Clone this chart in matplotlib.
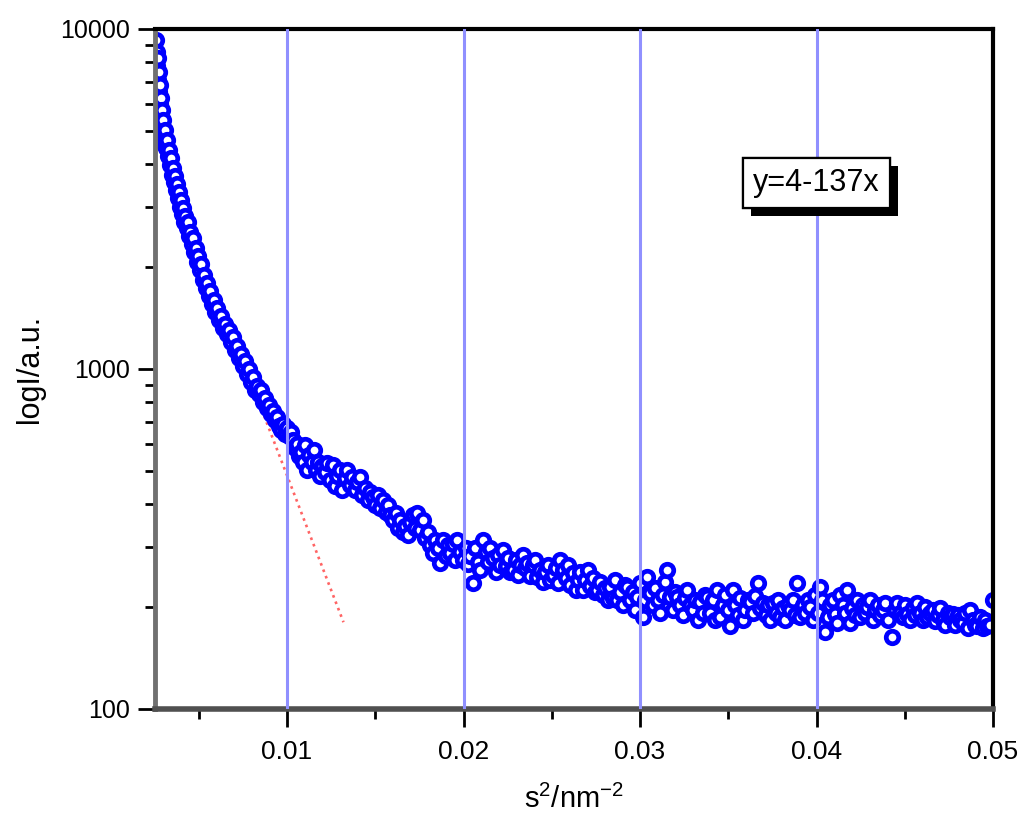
import matplotlib
matplotlib.use("Agg")
import matplotlib.pyplot as plt
import matplotlib.patheffects as pe
from matplotlib.ticker import FixedLocator, LogLocator, NullFormatter, FuncFormatter

plt.rcParams['font.family'] = ['Liberation Sans', 'DejaVu Sans']
plt.rcParams['mathtext.fontset'] = 'custom'
plt.rcParams['mathtext.rm'] = 'Liberation Sans'
plt.rcParams['mathtext.it'] = 'Liberation Sans:italic'

# steep part, s^2 < 0.0107
s2_steep = [0.00258, 0.00263, 0.00263, 0.00269, 0.00269, 0.00275, 0.00275, 0.00280, 0.00280, 0.00286,
            0.00286, 0.00292, 0.00292, 0.00297, 0.00303, 0.00303, 0.00309, 0.00314, 0.00320, 0.00326,
            0.00331, 0.00337, 0.00343, 0.00348, 0.00354, 0.00360, 0.00365, 0.00371, 0.00377, 0.00382,
            0.00388, 0.00394, 0.00399, 0.00405, 0.00411, 0.00416, 0.00422, 0.00433, 0.00439, 0.00445,
            0.00450, 0.00462, 0.00467, 0.00473, 0.00484, 0.00490, 0.00496, 0.00507, 0.00513, 0.00524,
            0.00530, 0.00541, 0.00547, 0.00558, 0.00564, 0.00575, 0.00586, 0.00592, 0.00603, 0.00615,
            0.00626, 0.00637, 0.00649, 0.00660, 0.00671, 0.00683, 0.00694, 0.00705, 0.00717, 0.00728,
            0.00739, 0.00751, 0.00762, 0.00773, 0.00785, 0.00796, 0.00807, 0.00819, 0.00830, 0.00841,
            0.00853, 0.00864, 0.00875, 0.00887, 0.00898, 0.00909, 0.00921, 0.00932, 0.00943, 0.00955,
            0.00966, 0.00977, 0.00989, 0.01000, 0.01011, 0.01023, 0.01034, 0.01045, 0.01057, 0.01068]
I_steep = [9290, 8550, 7790, 8210, 7080, 7470, 6530, 6840, 6010, 6270,
           5480, 5780, 5120, 5400, 4880, 4590, 5050, 4470, 4720, 4230,
           4410, 3980, 4180, 3720, 3900, 3550, 3700, 3360, 3500, 3180,
           3310, 2995, 3140, 2860, 2970, 2700, 2820, 2600, 2700, 2460,
           2530, 2335, 2430, 2210, 2270, 2060, 2150, 1955, 2035, 1827,
           1890, 1730, 1790, 1640, 1696, 1553, 1596, 1472, 1512, 1394,
           1433, 1320, 1357, 1268, 1303, 1200, 1243, 1138, 1168, 1078,
           1108, 1021, 1056, 967, 1000, 917, 948, 868, 892, 845,
           868, 800, 822, 768, 784, 738, 753, 708, 723, 680,
           662, 689, 644, 671, 636, 653, 618, 585, 601, 555]

# middle part
s2_mid = [0.01079, 0.01091, 0.01102, 0.01113, 0.01125, 0.01142, 0.01153, 0.01164, 0.01176, 0.01187,
          0.01198, 0.01215, 0.01227, 0.01244, 0.01261, 0.01272, 0.01283, 0.01300, 0.01312, 0.01329,
          0.01340, 0.01357, 0.01368, 0.01385, 0.01397, 0.01414, 0.01425, 0.01442, 0.01459, 0.01470,
          0.01487, 0.01499, 0.01516, 0.01527, 0.01544, 0.01561, 0.01572, 0.01584, 0.01601, 0.01618,
          0.01629, 0.01640, 0.01657, 0.01669, 0.01686, 0.01697, 0.01714, 0.01725, 0.01737, 0.01754,
          0.01771, 0.01782, 0.01799, 0.01810, 0.01827, 0.01839, 0.01856, 0.01867, 0.01884, 0.01901,
          0.01912, 0.01924, 0.01941, 0.01952, 0.01963, 0.01980, 0.01997, 0.02014, 0.02026, 0.02037,
          0.02054, 0.02065, 0.02082, 0.02093, 0.02110, 0.02127, 0.02139, 0.02150, 0.02167, 0.02184,
          0.02195, 0.02207]
I_mid = [570, 533, 597, 505, 559, 533, 578, 505, 533, 485,
         518, 498, 529, 472, 522, 453, 485, 505, 441, 478,
         505, 456, 482, 441, 466, 482, 426, 447, 412, 435,
         421, 398, 426, 390, 412, 380, 398, 372, 360, 377,
         341, 360, 331, 346, 325, 355, 372, 341, 377, 336,
         360, 318, 331, 304, 288, 314, 297, 268, 314, 282,
         304, 288, 306, 274, 314, 290, 274, 297, 267, 282,
         235, 297, 270, 256, 314, 290, 270, 297, 278, 253,
         284, 265]

# flat tail
s2_tail = [0.02224, 0.02241, 0.02252, 0.02263, 0.02280, 0.02297, 0.02309, 0.02320, 0.02337, 0.02348,
           0.02360, 0.02377, 0.02394, 0.02405, 0.02416, 0.02433, 0.02450, 0.02462, 0.02479, 0.02490,
           0.02507, 0.02524, 0.02535, 0.02547, 0.02564, 0.02581, 0.02592, 0.02603, 0.02620, 0.02637,
           0.02649, 0.02660, 0.02677, 0.02688, 0.02705, 0.02717, 0.02734, 0.02745, 0.02756, 0.02773,
           0.02790, 0.02802, 0.02819, 0.02830, 0.02847, 0.02858, 0.02870, 0.02887, 0.02904, 0.02915,
           0.02926, 0.02943, 0.02960, 0.02972, 0.02983, 0.03000, 0.03017, 0.03028, 0.03040, 0.03057,
           0.03074, 0.03085, 0.03102, 0.03113, 0.03130, 0.03142, 0.03153, 0.03170, 0.03187, 0.03198,
           0.03210, 0.03227, 0.03244, 0.03255, 0.03266, 0.03283, 0.03300, 0.03312, 0.03329, 0.03340,
           0.03357, 0.03368, 0.03380, 0.03397, 0.03414, 0.03425, 0.03436, 0.03453, 0.03470, 0.03482,
           0.03499, 0.03510, 0.03527, 0.03538, 0.03555, 0.03567, 0.03584, 0.03595, 0.03612, 0.03623,
           0.03640, 0.03652, 0.03669, 0.03680, 0.03697, 0.03714, 0.03725, 0.03737, 0.03754, 0.03771,
           0.03782, 0.03793, 0.03810, 0.03822, 0.03839, 0.03850, 0.03867, 0.03878, 0.03890, 0.03907,
           0.03924, 0.03935, 0.03952, 0.03963, 0.03980, 0.03992, 0.04009, 0.04020, 0.04031, 0.04048,
           0.04065, 0.04077, 0.04094, 0.04105, 0.04116, 0.04133, 0.04150, 0.04162, 0.04173, 0.04190,
           0.04201, 0.04218, 0.04230, 0.04247, 0.04264, 0.04275, 0.04286, 0.04303, 0.04320, 0.04332,
           0.04349, 0.04360, 0.04377, 0.04388, 0.04405, 0.04428, 0.04445, 0.04456, 0.04473, 0.04490,
           0.04501, 0.04513, 0.04530, 0.04547, 0.04558, 0.04569, 0.04586, 0.04603, 0.04615, 0.04626,
           0.04643, 0.04660, 0.04671, 0.04688, 0.04700, 0.04717, 0.04728, 0.04745, 0.04756, 0.04773,
           0.04784, 0.04801, 0.04813, 0.04830, 0.04841, 0.04858, 0.04870, 0.04887, 0.04898, 0.04909,
           0.04926, 0.04943, 0.04955, 0.04966, 0.04983, 0.05000]
I_tail = [294, 263, 278, 253, 256, 274, 247, 265, 284, 260,
          268, 246, 265, 274, 244, 256, 237, 253, 265, 240,
          247, 260, 234, 274, 256, 243, 265, 232, 251, 224,
          240, 253, 224, 240, 256, 230, 243, 221, 224, 237,
          217, 227, 209, 228, 212, 240, 209, 221, 202, 232,
          228, 209, 221, 196, 214, 235, 187, 209, 244, 219,
          202, 227, 209, 192, 217, 237, 256, 214, 196, 221,
          214, 202, 189, 212, 224, 202, 196, 209, 183, 206,
          192, 217, 214, 192, 209, 183, 224, 187, 202, 217,
          196, 175, 224, 202, 189, 212, 183, 196, 209, 206,
          192, 215, 235, 198, 205, 189, 202, 183, 205, 192,
          209, 187, 198, 183, 202, 196, 209, 189, 235, 187,
          202, 192, 209, 199, 183, 217, 192, 228, 209, 168,
          186, 202, 209, 190, 179, 217, 202, 192, 224, 179,
          198, 189, 209, 186, 202, 192, 199, 209, 183, 196,
          202, 189, 196, 205, 183, 163, 196, 205, 192, 186,
          202, 190, 183, 198, 189, 205, 192, 183, 199, 187,
          192, 196, 181, 189, 198, 183, 177, 192, 186, 190,
          177, 189, 183, 179, 192, 173, 196, 183, 177, 175,
          186, 173, 183, 175, 177, 209]

# linear fit of the Guinier region (log10 I = 4 - 137 s^2)
fit_s2 = [0.0027, 0.0132]
fit_I = [4700, 180]
fit_label = 'y=4-137x'

grid_x = [0.01, 0.02, 0.03, 0.04]
x_ticks = [0.01, 0.02, 0.03, 0.04, 0.05]
x_minor = [0.005, 0.015, 0.025, 0.035, 0.045]

s2 = s2_steep + s2_mid + s2_tail
I = I_steep + I_mid + I_tail

fig = plt.figure(figsize=(10.24, 8.31), dpi=100)
fig.patch.set_facecolor('white')
ax = fig.add_axes([155 / 1024, 1 - 709 / 831, 838 / 1024, 680 / 831])

for gx in grid_x:
    ax.axvline(gx, color='#9090ff', lw=2.2, zorder=3)

ax.plot(fit_s2, fit_I, color='#ff6464', ls=(0, (1, 1.6)), lw=1.9, zorder=1.5)
ax.plot(s2, I, 'o', ms=9, mfc='white', mec='#0000ff', mew=3.4, ls='none', zorder=2)

ax.set_yscale('log')
ax.set_xlim(0.00252, 0.05)
ax.set_ylim(100, 10000)

ax.xaxis.set_major_locator(FixedLocator(x_ticks))
ax.xaxis.set_minor_locator(FixedLocator(x_minor))
ax.xaxis.set_major_formatter(FuncFormatter(lambda v, p: f'{v:.2f}'))
ax.yaxis.set_major_locator(FixedLocator([100, 1000, 10000]))
ax.yaxis.set_minor_locator(LogLocator(base=10, subs=range(2, 10)))
ax.yaxis.set_major_formatter(FuncFormatter(lambda v, p: f'{v:.0f}'))
ax.yaxis.set_minor_formatter(NullFormatter())

ax.tick_params(axis='x', which='major', length=13, width=2, direction='out', labelsize=19, pad=9)
ax.tick_params(axis='x', which='minor', length=7, width=2, direction='out')
ax.tick_params(axis='y', which='major', length=12, width=2, direction='out', labelsize=18, pad=6)
ax.tick_params(axis='y', which='minor', length=7, width=2, direction='out')

ax.spines['left'].set_color('#707070')
ax.spines['left'].set_linewidth(3.5)
ax.spines['bottom'].set_color('#505050')
ax.spines['bottom'].set_linewidth(4)
ax.spines['top'].set_color('black')
ax.spines['top'].set_linewidth(3)
ax.spines['right'].set_color('black')
ax.spines['right'].set_linewidth(3)

ax.set_ylabel('logI/a.u.', fontsize=22)
ax.yaxis.set_label_coords(-0.131, 0.5)
ax.set_xlabel(r's$^{2}$/nm$^{-2}$', fontsize=21)
ax.xaxis.set_label_coords(0.5, -0.112)

t = ax.text(0.04, 3525, fit_label, ha='center', va='center', fontsize=22, zorder=6,
            bbox=dict(boxstyle='square,pad=0.33', fc='white', ec='black', lw=1.6))
t.get_bbox_patch().set_path_effects([
    pe.withSimplePatchShadow(offset=(6, -6), shadow_rgbFace='black', alpha=1.0),
    pe.Normal()])

fig.savefig('out.png', dpi=100, facecolor='white')
